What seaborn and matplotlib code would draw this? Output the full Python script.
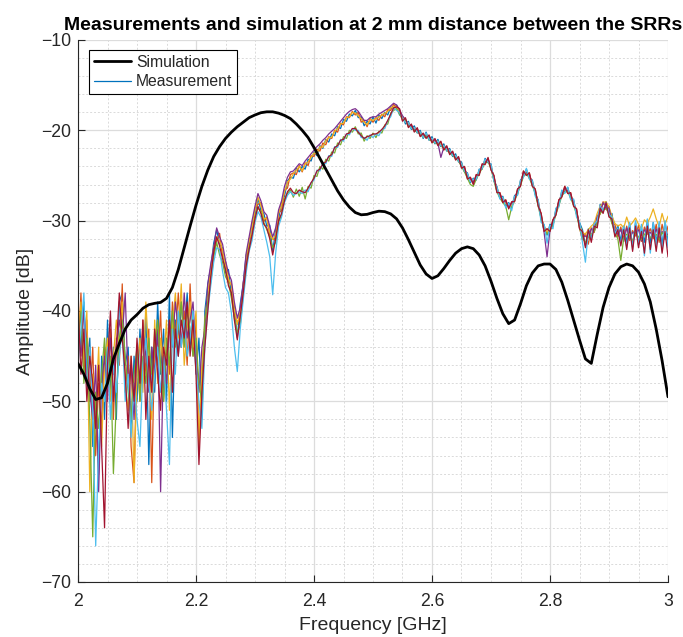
import numpy as np
import pandas as pd
import matplotlib
matplotlib.use("Agg")
import matplotlib.pyplot as plt
import seaborn as sns
from matplotlib.lines import Line2D
from matplotlib.ticker import MultipleLocator

# ---------------- data ----------------
# Simulation, 2.00 .. 3.00 GHz, step 0.01 GHz
sim_amp = [
    -45.8, -47.0, -48.6, -49.8, -49.6, -48.0, -45.3, -43.6, -42.0, -41.0,
    -40.4, -39.7, -39.3, -39.15, -39.05, -38.6, -37.4, -35.4, -33.0, -30.6,
    -28.3, -26.2, -24.4, -22.9, -21.8, -20.9, -20.2, -19.6, -19.1, -18.6,
    -18.3, -18.05, -17.95, -17.95, -18.1, -18.35, -18.7, -19.3, -20.0, -20.8,
    -21.9, -23.1, -24.3, -25.5, -26.7, -27.7, -28.5, -29.1, -29.35, -29.3,
    -29.1, -28.95, -29.0, -29.25, -29.8, -30.8, -32.1, -33.5, -34.9, -35.9,
    -36.4, -36.1, -35.3, -34.4, -33.6, -33.1, -32.9, -33.1, -33.8, -35.0,
    -36.7, -38.6, -40.3, -41.4, -41.0, -39.2, -37.2, -35.8, -35.0, -34.8,
    -34.8, -35.4, -36.8, -38.8, -41.0, -43.2, -45.3, -45.8, -42.6, -39.6,
    -37.4, -35.9, -35.1, -34.8, -35.0, -35.7, -37.0, -39.0, -42.0, -45.5,
    -49.5,
]

# Measurements, 2.000 .. 3.000 GHz, step 0.005 GHz (seven repeated sweeps)
meas_1 = [
    -40, -44, -39, -47, -43, -55, -49, -58, -45, -52, -41, -49, -44, -52, -39, -38, -46, -44, -53, -45,
    -50, -42, -48, -40, -57, -44, -49, -39, -47, -42, -50, -38, -54, -41, -45, -39, -43, -38, -44, -40,
    -47, -43, -52, -40, -37,
    -35.2, -32.5, -31.0, -32.6, -33.0, -35.8, -35.4, -38.2, -39.5, -43.0, -39.2, -37.0, -33.8, -32.9,
    -30.4, -29.4, -27.5, -28.9, -29.2, -30.6, -30.5, -33.4, -31.0, -29.8, -28.0, -27.3, -25.6, -25.2,
    -25.3, -24.2, -24.6, -24.0, -24.3, -23.2, -23.4, -22.4, -22.8, -21.7, -22.0, -21.0, -21.3, -20.4,
    -20.6, -19.6, -19.8, -18.8, -19.0, -18.2, -18.4, -17.8, -18.6, -18.5, -19.5, -19.0, -19.3, -18.5,
    -19.2, -18.3, -18.7, -18.0, -18.3, -17.4, -17.6, -17.2,
    -18.3, -18.4, -19.3, -19.0, -19.9, -19.5, -20.3, -20.0, -20.9, -20.2, -21.1, -20.7, -21.5, -21.0,
    -21.8, -21.5, -22.3, -22.0, -22.9, -22.6, -23.5, -23.5, -24.6, -24.7, -25.8, -25.3, -25.5, -24.3,
    -24.3, -23.1, -23.6, -23.7, -25.6, -26.2, -27.5, -27.3, -28.4, -28.0, -28.6, -27.2, -27.1, -25.5,
    -25.1, -24.3, -25.3, -25.5, -27.1, -27.7, -29.9, -30.5, -31.6, -30.4, -30.6, -28.7, -28.3, -26.7,
    -26.8, -26.3, -27.5, -27.7, -29.3, -30.2,
    -31.0, -32.8, -30.9, -31.9, -30.2, -30.5, -28.2, -29.0, -27.9, -29.5, -29.2, -31.6, -30.5, -32.2,
    -30.6, -32.4, -30.3, -32.9, -30.2, -32.6, -30.8, -32.4, -29.9, -32.5, -30.2, -32.3, -30.6, -32.6,
    -30.1, -32.2,
]
meas_2 = [
    -45, -38, -47, -41, -50, -44, -56, -48, -53, -44, -48, -42, -52, -43, -46, -37, -49, -45, -55, -59,
    -44, -50, -41, -47, -42, -59, -43, -46, -40, -50, -44, -47, -39, -43, -38, -44, -40, -46, -37, -45,
    -41, -55, -47, -43, -39,
    -36.5, -33.8, -32.2, -31.4, -34.0, -34.6, -36.8, -37.0, -40.6, -41.2, -40.8, -36.9, -35.2, -32.0,
    -31.6, -28.6, -28.2, -28.0, -30.1, -29.6, -31.6, -32.0, -32.2, -29.1, -28.9, -26.6, -26.4, -24.9,
    -24.7, -24.9, -23.9, -24.6, -23.6, -23.9, -22.8, -22.9, -22.1, -22.3, -21.4, -21.6, -20.7, -20.9,
    -20.0, -20.2, -19.2, -19.4, -18.5, -18.6, -17.9, -18.3, -18.0, -19.1, -18.9, -19.6, -18.7, -19.1,
    -18.6, -18.9, -18.2, -18.5, -17.7, -17.8, -17.1, -17.6,
    -17.8, -18.9, -18.8, -19.6, -19.4, -20.1, -19.8, -20.6, -20.4, -20.8, -20.6, -21.3, -21.0, -21.6,
    -21.3, -22.1, -21.8, -22.6, -22.4, -23.2, -23.0, -24.1, -24.0, -25.3, -25.2, -25.9, -24.9, -24.8,
    -23.8, -23.6, -23.1, -24.3, -25.0, -26.8, -26.9, -27.9, -27.7, -28.6, -28.0, -27.8, -26.5, -26.1,
    -24.5, -24.9, -24.7, -26.1, -26.5, -28.3, -29.2, -31.1, -30.9, -31.1, -29.9, -29.3, -27.7, -27.3,
    -26.2, -26.9, -26.9, -28.3, -28.7, -30.8,
    -32.1, -31.4, -32.6, -30.8, -31.3, -29.4, -29.3, -27.9, -28.7, -28.4, -30.3, -30.4, -31.8, -30.7,
    -32.0, -30.6, -32.2, -31.1, -31.7, -30.5, -32.3, -30.7, -31.5, -30.9, -32.0, -30.4, -32.4, -30.4,
    -32.1, -30.6,
]
meas_3 = [
    -43, -39, -46, -40, -60, -47, -51, -44, -55, -46, -43, -50, -45, -41, -44, -39, -48, -51, -45, -59,
    -47, -43, -49, -39, -45, -52, -41, -48, -43, -46, -41, -51, -42, -38, -43, -37, -46, -42, -39, -44,
    -40, -55, -46, -41, -38,
    -35.5, -32.9, -31.8, -32.3, -33.2, -35.1, -36.4, -37.2, -39.8, -41.5, -39.8, -37.8, -34.0, -32.3,
    -30.6, -28.9, -27.4, -28.3, -29.8, -29.7, -31.3, -32.1, -31.6, -29.2, -28.2, -26.8, -25.7, -25.4,
    -24.8, -24.4, -24.0, -24.5, -23.7, -23.5, -23.0, -22.5, -22.6, -21.8, -21.9, -21.1, -20.8, -20.8,
    -20.1, -19.8, -19.3, -19.2, -18.6, -18.5, -18.0, -18.1, -18.4, -18.7, -19.1, -19.4, -18.8, -18.9,
    -18.7, -18.5, -18.3, -18.1, -17.9, -17.5, -17.4, -17.3,
    -18.1, -18.5, -19.1, -19.2, -19.7, -19.7, -20.1, -20.2, -20.7, -20.4, -20.9, -20.9, -21.3, -21.2,
    -21.6, -21.7, -22.1, -22.2, -22.7, -22.8, -23.3, -23.7, -24.4, -24.9, -25.6, -25.5, -25.3, -24.5,
    -24.1, -23.3, -23.4, -23.9, -25.4, -26.4, -27.3, -27.5, -28.1, -28.2, -28.5, -27.4, -26.9, -25.7,
    -24.9, -24.5, -25.1, -25.7, -26.9, -27.9, -29.6, -30.7, -31.3, -30.7, -30.3, -28.9, -28.1, -26.9,
    -26.6, -26.5, -27.3, -27.9, -29.1, -30.4,
    -31.3, -31.5, -31.0, -30.6, -30.3, -29.2, -28.4, -28.0, -27.9, -28.5, -29.5, -30.3, -30.6, -30.4,
    -30.8, -29.6, -30.6, -30.2, -29.7, -30.4, -30.9, -29.9, -30.3, -29.6, -28.7, -29.8, -30.7, -29.2,
    -30.4, -29.5,
]
meas_4 = [
    -41, -45, -40, -44, -49, -52, -46, -60, -48, -45, -50, -43, -47, -44, -41, -43, -38, -48, -46, -52,
    -44, -48, -42, -45, -49, -44, -47, -42, -60, -45, -48, -41, -44, -39, -42, -44, -38, -43, -41, -39,
    -45, -49, -44, -42, -37,
    -34.8, -33.0, -30.8, -31.8, -32.6, -34.4, -35.8, -36.6, -39.0, -40.8, -39.6, -37.0, -33.6, -31.8,
    -30.0, -28.4, -27.0, -27.8, -29.0, -29.4, -30.6, -31.8, -30.8, -28.8, -27.8, -26.2, -25.2, -24.6,
    -24.5, -24.1, -23.7, -23.9, -23.4, -23.0, -22.6, -22.2, -21.8, -21.5, -21.1, -20.8, -20.4, -20.1,
    -19.8, -19.4, -19.0, -18.6, -18.2, -17.9, -17.7, -17.6, -17.9, -18.4, -18.9, -18.9, -18.6, -18.5,
    -18.5, -18.2, -18.0, -17.8, -17.6, -17.3, -17.0, -17.2,
    -17.7, -18.4, -18.8, -19.4, -19.5, -19.9, -20.0, -20.4, -20.5, -20.6, -20.7, -21.1, -21.1, -21.4,
    -23.0, -21.9, -21.9, -22.4, -22.5, -23.0, -23.1, -23.9, -24.2, -25.1, -25.4, -25.7, -25.1, -24.7,
    -23.9, -23.5, -23.2, -24.1, -25.2, -26.6, -27.1, -27.7, -27.9, -28.4, -28.1, -27.6, -26.7, -25.9,
    -24.7, -24.7, -24.9, -25.9, -26.7, -28.1, -29.4, -31.3, -34.0, -31.0, -30.1, -29.1, -27.9, -27.1,
    -26.4, -26.7, -27.1, -28.1, -28.9, -30.6,
    -31.8, -31.7, -31.9, -30.9, -31.2, -29.6, -29.1, -28.0, -28.6, -28.6, -30.1, -31.0, -31.5, -31.0,
    -32.3, -30.8, -31.9, -31.3, -31.4, -31.0, -32.2, -31.0, -31.4, -31.3, -31.8, -30.9, -32.1, -31.2,
    -31.6, -31.5,
]
meas_5 = [
    -44, -40, -48, -43, -52, -65, -49, -53, -47, -43, -48, -45, -58, -50, -43, -41, -45, -49, -52, -47,
    -44, -50, -45, -48, -43, -47, -44, -41, -46, -50, -43, -46, -40, -44, -42, -39, -44, -40, -42, -45,
    -43, -48, -50, -41, -39,
    -36.8, -34.0, -32.4, -33.8, -34.6, -36.2, -36.8, -38.6, -40.8, -42.4, -41.6, -38.2, -35.2, -33.0,
    -31.8, -29.6, -28.6, -29.0, -30.2, -31.0, -31.8, -33.0, -32.4, -30.2, -29.4, -27.6, -27.0, -26.6,
    -27.4, -26.5, -27.3, -26.3, -27.6, -26.2, -26.4, -25.0, -25.1, -24.0, -24.3, -23.2, -23.4, -22.4,
    -22.5, -21.4, -21.6, -20.7, -20.9, -20.0, -20.2, -19.6, -20.4, -20.3, -21.2, -20.6, -20.9, -20.3,
    -20.8, -20.1, -20.3, -19.4, -19.3, -18.1, -17.8, -17.6,
    -18.2, -18.8, -18.9, -19.5, -19.7, -20.0, -20.2, -20.4, -20.8, -20.6, -21.0, -21.2, -21.4, -21.5,
    -21.7, -22.0, -22.2, -22.5, -22.8, -23.1, -23.4, -24.0, -24.6, -25.3, -26.0, -26.2, -25.4, -24.8,
    -24.2, -23.6, -23.5, -24.2, -25.6, -26.8, -27.5, -28.0, -28.4, -29.9, -28.5, -27.8, -27.0, -26.1,
    -25.1, -24.8, -25.3, -26.1, -27.0, -28.4, -29.8, -31.0, -31.5, -31.1, -30.5, -29.3, -28.3, -27.3,
    -26.8, -26.8, -27.5, -28.3, -29.3, -30.8,
    -31.9, -32.4, -31.8, -31.5, -31.2, -30.2, -29.2, -28.8, -28.7, -29.2, -30.3, -31.4, -32.0, -34.4,
    -31.9, -31.5, -31.8, -32.2, -31.3, -31.8, -32.1, -31.5, -31.3, -31.9, -31.6, -31.5, -32.1, -31.3,
    -31.8, -31.6,
]
meas_6 = [
    -46, -42, -38, -49, -44, -51, -66, -55, -48, -50, -44, -52, -46, -49, -45, -42, -50, -47, -54, -48,
    -52, -55, -46, -43, -48, -51, -47, -44, -49, -45, -51, -57, -42, -47, -40, -44, -41, -45, -43, -40,
    -46, -50, -53, -44, -40,
    -37.2, -34.6, -33.0, -33.2, -35.6, -37.4, -38.0, -40.2, -44.0, -46.7, -42.0, -38.8, -35.8, -33.4,
    -32.2, -30.2, -29.0, -29.6, -31.0, -32.4, -34.0, -38.2, -33.6, -30.6, -29.6, -28.0, -27.2, -26.8,
    -27.2, -27.0, -26.8, -27.0, -26.6, -26.8, -25.8, -25.5, -24.4, -24.5, -23.6, -23.7, -22.8, -22.9,
    -21.8, -21.9, -21.0, -21.2, -20.4, -20.5, -19.8, -20.0, -20.0, -20.8, -20.8, -21.1, -20.5, -20.8,
    -20.4, -20.6, -19.9, -19.8, -18.9, -18.5, -17.5, -17.8,
    -18.0, -18.7, -19.1, -19.2, -19.8, -19.7, -20.2, -20.2, -20.8, -20.3, -21.0, -20.9, -21.4, -21.2,
    -21.7, -21.7, -22.2, -22.2, -22.8, -22.8, -23.4, -23.7, -24.5, -24.8, -25.7, -25.4, -25.4, -24.4,
    -24.2, -23.2, -23.5, -23.8, -25.6, -26.3, -27.6, -27.4, -28.6, -28.1, -28.9, -27.3, -27.2, -25.6,
    -25.2, -24.2, -25.4, -25.6, -27.3, -27.8, -30.2, -30.4, -32.5, -30.5, -30.9, -28.6, -28.5, -26.6,
    -27.0, -26.3, -27.7, -27.6, -29.6, -30.1,
    -32.4, -34.6, -31.2, -32.0, -30.4, -30.0, -28.4, -28.9, -28.0, -29.3, -29.6, -31.4, -30.8, -32.6,
    -30.6, -33.0, -30.2, -33.2, -30.0, -32.8, -30.4, -33.9, -29.8, -33.6, -30.2, -32.8, -30.1, -33.4,
    -30.0, -33.0,
]
meas_7 = [
    -39, -47, -42, -50, -45, -48, -53, -46, -55, -64, -46, -40, -50, -44, -38, -43, -47, -53, -45, -50,
    -43, -48, -41, -52, -45, -49, -42, -47, -51, -44, -46, -41, -49, -42, -45, -41, -43, -39, -45, -41,
    -47, -57, -49, -44, -40,
    -36.2, -33.4, -31.8, -32.8, -34.2, -35.4, -37.2, -38.0, -41.0, -43.2, -40.6, -38.0, -35.0, -33.2,
    -31.6, -29.8, -28.4, -29.2, -30.4, -30.8, -32.0, -33.8, -32.0, -30.0, -29.2, -27.8, -26.8, -26.4,
    -26.9, -27.0, -26.6, -26.8, -26.9, -26.4, -25.8, -25.3, -24.5, -24.3, -23.7, -23.5, -22.9, -22.7,
    -21.9, -21.7, -21.1, -21.0, -20.4, -20.3, -19.8, -19.8, -20.2, -20.6, -20.9, -20.7, -20.6, -20.4,
    -20.4, -20.2, -19.9, -19.5, -18.9, -18.2, -17.5, -17.4,
    -17.6, -19.0, -18.6, -19.7, -19.3, -20.2, -19.7, -20.7, -20.3, -20.9, -20.5, -21.4, -20.9, -21.7,
    -21.2, -22.2, -21.7, -22.7, -22.3, -23.3, -22.9, -24.2, -24.0, -25.4, -25.2, -26.0, -24.9, -25.0,
    -23.7, -23.8, -23.0, -24.4, -25.0, -26.9, -26.9, -28.0, -27.7, -28.7, -27.9, -27.9, -26.5, -26.2,
    -24.5, -25.0, -24.7, -26.2, -26.5, -28.4, -29.2, -31.2, -30.9, -31.2, -29.9, -29.4, -27.7, -27.4,
    -26.2, -27.0, -26.9, -28.4, -28.7, -30.9,
    -31.2, -33.0, -31.0, -32.4, -30.6, -30.8, -28.6, -29.2, -28.0, -29.6, -29.8, -31.8, -31.0, -32.8,
    -31.0, -33.2, -30.8, -33.4, -30.6, -33.0, -31.2, -33.6, -30.6, -33.2, -31.0, -33.4, -30.8, -33.6,
    -31.2, -34.0,
]
measurements = [meas_1, meas_2, meas_3, meas_4, meas_5, meas_6, meas_7]
meas_colors = ["#0072BD", "#D95319", "#EDB120", "#7E2F8E", "#77AC30", "#4DBEEE", "#A2142F"]

f_start, f_stop = 2.0, 3.0
title_text = "Measurements and simulation at 2 mm distance between the SRRs"

# ---------------- tables ----------------
rows = []
for k, tr in enumerate(measurements):
    fr = np.linspace(f_start, f_stop, len(tr))
    for f, a in zip(fr, tr):
        rows.append((f"m{k + 1}", f, a))
df_meas = pd.DataFrame(rows, columns=["trace", "freq", "amp"])
df_sim = pd.DataFrame({"freq": np.linspace(f_start, f_stop, len(sim_amp)), "amp": sim_amp})

# ---------------- plot ----------------
sns.set_theme(style="white")
plt.rcParams["font.family"] = ["Liberation Sans", "DejaVu Sans"]
plt.rcParams["axes.unicode_minus"] = True

W, H = 683, 637
fig = plt.figure(figsize=(W / 100, H / 100), dpi=100)
ax = fig.add_axes([78 / W, 1 - 582 / H, 590 / W, 542 / H])

sns.lineplot(data=df_meas, x="freq", y="amp", hue="trace", palette=meas_colors,
             estimator=None, sort=False, linewidth=0.9, legend=False, ax=ax, zorder=2)
sns.lineplot(data=df_sim, x="freq", y="amp", color="black", estimator=None, sort=False,
             linewidth=2.0, legend=False, ax=ax, zorder=3)

ax.set_xlim(2.0, 3.0)
ax.set_ylim(-70, -10)
ax.xaxis.set_major_locator(MultipleLocator(0.2))
ax.xaxis.set_minor_locator(MultipleLocator(0.05))
ax.yaxis.set_major_locator(MultipleLocator(10))
ax.yaxis.set_minor_locator(MultipleLocator(2))
ax.set_xticklabels([f"{v:g}" for v in ax.get_xticks()])

ax.set_axisbelow(True)
ax.grid(which="major", color="#dcdcdc", linewidth=0.9, linestyle="-")
ax.grid(which="minor", color="#dadada", linewidth=0.7, linestyle=(0, (2, 2)))

for s in ["top", "right"]:
    ax.spines[s].set_visible(False)
for s in ["left", "bottom"]:
    ax.spines[s].set_color("#262626")
    ax.spines[s].set_linewidth(0.8)

ax.tick_params(which="major", direction="in", length=5, width=0.8, colors="#262626",
               labelsize=12.7, bottom=True, left=True)
ax.tick_params(axis="x", which="major", pad=8)
ax.tick_params(axis="y", which="major", pad=5)
ax.tick_params(which="minor", length=0)

ax.set_xlabel("Frequency [GHz]", fontsize=14, color="#262626", labelpad=5)
ax.set_ylabel("Amplitude [dB]", fontsize=14, color="#262626", labelpad=5)
ax.set_title(title_text, fontsize=14, fontweight="bold", color="black", pad=7)

handles = [Line2D([], [], color="black", linewidth=2.0),
           Line2D([], [], color=meas_colors[0], linewidth=0.9)]
leg = ax.legend(handles, ["Simulation", "Measurement"], loc="upper left",
                bbox_to_anchor=(0.0186, 0.9815), borderaxespad=0, fontsize=11.3,
                handlelength=2.4, handletextpad=0.3, labelspacing=0.3,
                borderpad=0.3, fancybox=False, framealpha=1, edgecolor="black")
leg.get_frame().set_linewidth(0.8)

fig.savefig("out.png", dpi=100)
